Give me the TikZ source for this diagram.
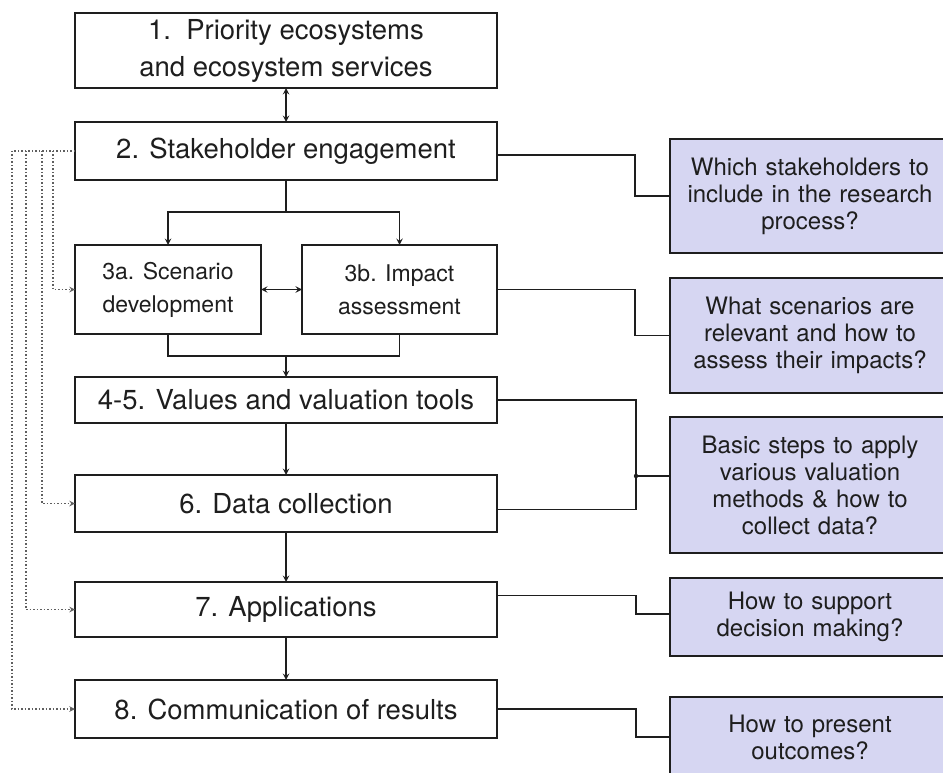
\documentclass[tikz,border=0pt]{standalone}
\usepackage{fontspec}
\setmainfont{TeX Gyre Heros}
\usepackage{xcolor}
\usetikzlibrary{positioning}
\definecolor{qblue}{RGB}{214,214,242}
\definecolor{dotgray}{RGB}{95,95,95}
\definecolor{inkgray}{RGB}{30,30,30}

\begin{document}
\begin{tikzpicture}
        [x=1pt, y=-1pt, inkgray,
            stepbox/.style={draw, rectangle, align=center, line width=2pt, outer sep=0pt, minimum width=422pt, font=\fontsize{27.5}{37}\selectfont},
            subbox/.style={stepbox, font=\fontsize{23}{33}\selectfont},
            qbox/.style={draw, rectangle, align=center, fill=qblue, line width=2pt, outer sep=0pt, anchor=north west, minimum width=280pt, text width=262pt, font=\fontsize{24}{27}\selectfont},
            link/.style={line width=1.8pt},
            fback/.style={dotgray, dotted, line width=1.5pt},
            >=stealth
        ]
        \useasboundingbox (0,0) rectangle (943,773);
        % main steps
        \node (prio) [stepbox, minimum height=75pt] at (286,50.5) {1.~~Priority ecosystems\\and ecosystem services};
        \node (stake) [stepbox, minimum height=58pt, below=34pt of prio] {2. Stakeholder engagement};
        \node (scen) [subbox, minimum width=186pt, minimum height=89pt] at (168,289.5) {3a. Scenario\\development};
        \node (impact) [subbox, minimum width=195pt, minimum height=89pt] at (399.5,289.5) {3b. Impact\\assessment};
        \node (values) [stepbox, minimum height=46pt] at (286,400) {4-5. Values and valuation tools};
        \node (data) [stepbox, minimum height=57pt, below=52pt of values] {6. Data collection};
        \node (apps) [stepbox, minimum height=55pt, below=50pt of data] {7. Applications};
        \node (comm) [stepbox, minimum height=58pt, below=43pt of apps] {8. Communication of results};
        % questions
        \node (q1) [qbox, minimum height=114pt] at (670,139) {Which stakeholders to\\include in the research\\process?};
        \node (q2) [qbox, minimum height=115pt] at (670,278) {What scenarios are\\relevant and how to\\assess their impacts?};
        \node (q3) [qbox, minimum height=136pt] at (670,417) {Basic steps to apply\\various valuation\\methods \& how to\\collect data?};
        \node (q4) [qbox, minimum height=78pt] at (670,578) {How to support\\decision making?};
        \node (q5) [qbox, minimum height=80pt] at (670,697) {How to present\\outcomes?};
        % flow
        \draw[link, <->] (prio) -- (stake);
        \draw[link] (stake.south) -- ++(0,32) coordinate (split);
        \draw[link, ->] (split) -| (scen.north);
        \draw[link, ->] (split) -| (impact.north);
        \draw[link, <->] (scen) -- (impact);
        \draw[link] (scen.south) -- ++(0,22) -| (impact.south);
        \path (scen.south) ++(118,22) coordinate (merge);
        \draw[link, ->] (merge) -- (values);
        \draw[link, ->] (values) -- (data);
        \draw[link, ->] (data) -- (apps);
        \draw[link, ->] (apps) -- (comm);
        % links to questions
        \draw[link] ([yshift=-4pt]stake.east) -- ++(138,0) |- (q1.west);
        \draw[link] (impact.east) -- ++(138,0) |- (q2.west);
        \draw[link] (values.east) -- ++(139,0) |- ([yshift=-6pt]data.east);
        \path ([yshift=9pt]q3.west) ++(-34,0) coordinate (vjoin);
        \draw[link] (vjoin) -- ([yshift=9pt]q3.west);
        \fill (vjoin) circle (2.2pt);
        \draw[link] ([yshift=14pt]apps.east) -- ++(139,0) |- ([yshift=3pt]q4.west);
        \draw[link] (comm.east) -- ++(139,0) |- (q5.west);
        % feedback from stakeholders
        \draw[fback] (stake.west) -- ++(-63,0);
        \draw[fback, ->] ([xshift=-22pt]stake.west) |- (scen.west);
        \draw[fback, ->] ([xshift=-33pt]stake.west) |- (data.west);
        \draw[fback, ->] ([xshift=-49pt]stake.west) |- (apps.west);
        \draw[fback, ->] ([xshift=-63pt]stake.west) |- (comm.west);
\end{tikzpicture}
\end{document}
